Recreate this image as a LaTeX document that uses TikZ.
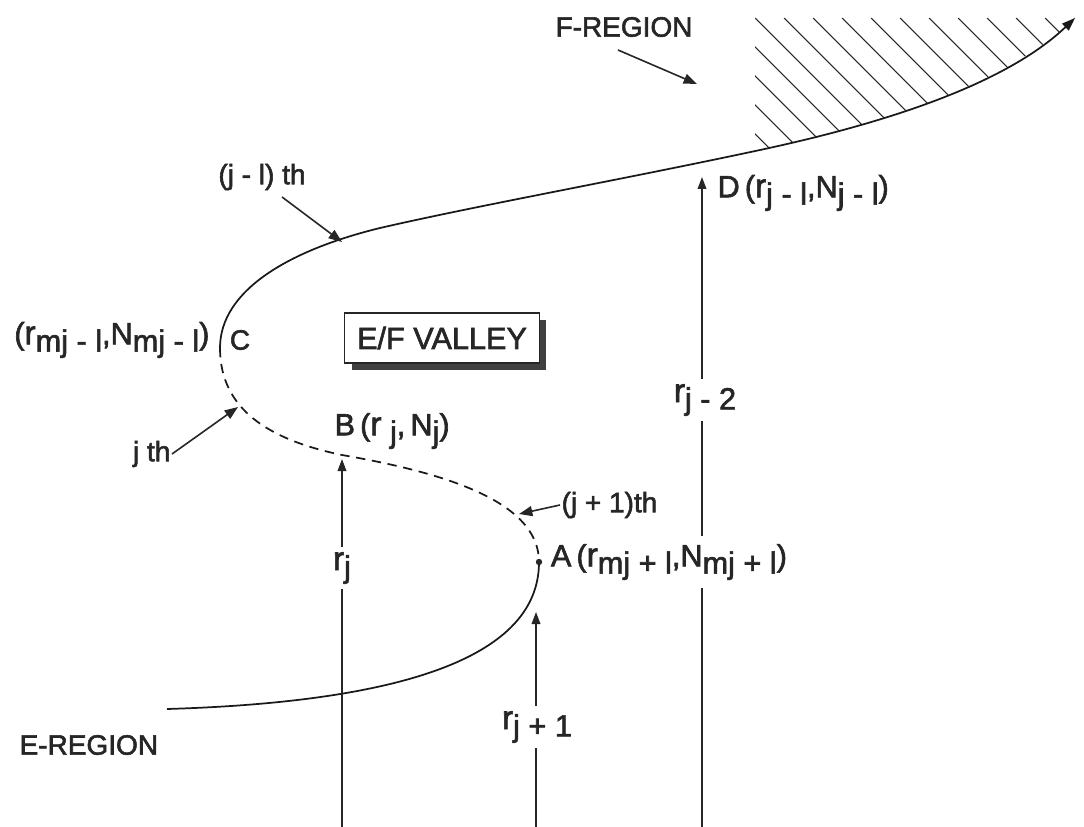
\documentclass[tikz,border=0pt]{standalone}
\usepackage{fontspec}
\setmainfont{Liberation Sans}[FakeBold=2]
\usetikzlibrary{arrows.meta}
\newcommand{\lo}[1]{\raisebox{-0.45ex}{#1}}
\newcommand{\rv}{{\fontsize{25}{25}\selectfont r}}
\begin{document}
\begin{tikzpicture}[x=0.75pt,y=-0.75pt,
  lbl/.style={font=\fontsize{21}{24}\selectfont, text=black!85, inner sep=1pt},
  clbl/.style={font=\fontsize{23}{26}\selectfont, text=black!85, inner sep=1pt},
  curve/.style={line width=1.3pt, draw=black!90},
  vline/.style={line width=1.1pt, draw=black!85, -{Triangle[length=9pt,width=6.5pt]}},
  pointer/.style={line width=1.2pt, draw=black!85, -{Triangle[length=10pt,width=7.5pt]}},
  hatch/.style={line width=0.8pt, draw=black!85},
]
\useasboundingbox (0,0) rectangle (1084,827);

% key points
\coordinate (C) at (220,348);
\coordinate (B) at (342,455);
\coordinate (A) at (539,562);
\coordinate (E) at (167,709);
\coordinate (P1) at (380,228);
\coordinate (P2) at (760,150);
\coordinate (tip) at (1075,18);

% hatching
\begin{scope}
  \clip (755,18) -- (755,151) -- (P2) .. controls (900,120) and (1010,80) .. (tip) -- cycle;
  \foreach \k in {-6,...,11} {
    \draw[hatch] (755+29*\k,18) -- ++(260,260);
  }
\end{scope}

% main curve
\draw[curve,-{Triangle[length=10pt,width=7pt]}] (C) .. controls (220,290) and (290,250) .. (P1)
   .. controls (480,205) and (620,180) .. (P2)
   .. controls (900,120) and (1010,80) .. (tip);
\draw[curve,dashed,dash pattern=on 7pt off 5pt] (C) .. controls (220,410) and (270,440) .. (B)
   .. controls (440,472) and (539,500) .. (A);
\draw[curve] (A) .. controls (539,630) and (470,700) .. (E);
\fill[black!85] (A) circle (3.2);

% vertical arrows
\coordinate (bj) at (342,827);
\coordinate (bj1) at (536,827);
\coordinate (bj2) at (702,827);
\coordinate (Bt) at (342,459);
\coordinate (At) at (536,612);
\coordinate (Dt) at (702,177);
\draw[vline] (bj) -- (Bt);
\draw[vline] (bj1) -- (At);
\draw[vline] (bj2) -- (Dt);
\node[clbl, fill=white, inner sep=4pt] (rj) at (342,568) {\rv\lo{j}};
\node[clbl, fill=white, inner sep=4pt] (rj1) at (537,727) {\rv\lo{j + 1}};
\node[clbl, fill=white, inner sep=4pt] (rj2) at (705,400) {\rv\lo{j - 2}};

% labels
\node[lbl] (freg) at (624,27) {F-REGION};
\coordinate (fregtip) at (697,84);
\draw[pointer] (618,50) -- (fregtip);

\node[lbl] (jl) at (262,177) {(j - l) th};
\coordinate (jltip) at (342,242);
\draw[pointer] (282,197) -- (jltip);

\node[lbl] (Clab) at (240,340) {C};
\node[clbl, anchor=east] (Ccoord) at (211,340) {(\rv\lo{mj - l},N\lo{mj - l})};

\node[clbl] (Dlab) at (716,193) [anchor=west] {D\,(\rv\lo{j - l},N\lo{j - l})};

\node[fill=black!75, minimum width=146pt, minimum height=37.5pt] (shadow) at (449,345) {};
\node[clbl, draw=black!85, line width=0.8pt, fill=white, minimum width=146pt, minimum height=37.5pt] (valley) at (442,338) {E/F VALLEY};

\node[lbl, anchor=east] (jth) at (172,454) {j th};
\coordinate (jthtip) at (238,407);
\draw[pointer] (jth.east) -- (jthtip);

\node[clbl, anchor=west] (Blab) at (333,431) {B\,(\rv\lo{ j},\,N\lo{j})};

\node[lbl, anchor=west] (j1) at (560,505) {(j + 1)th};
\coordinate (j1tip) at (519,514);
\draw[pointer] (j1.west) -- (j1tip);

\node[clbl, anchor=west, fill=white, inner ysep=6pt, inner xsep=2pt] (Alab) at (548,562) {A\,(\rv\lo{mj + l},N\lo{mj + l})};

\node[lbl, anchor=west] (ereg) at (18,745) {E-REGION};
\end{tikzpicture}
\end{document}
